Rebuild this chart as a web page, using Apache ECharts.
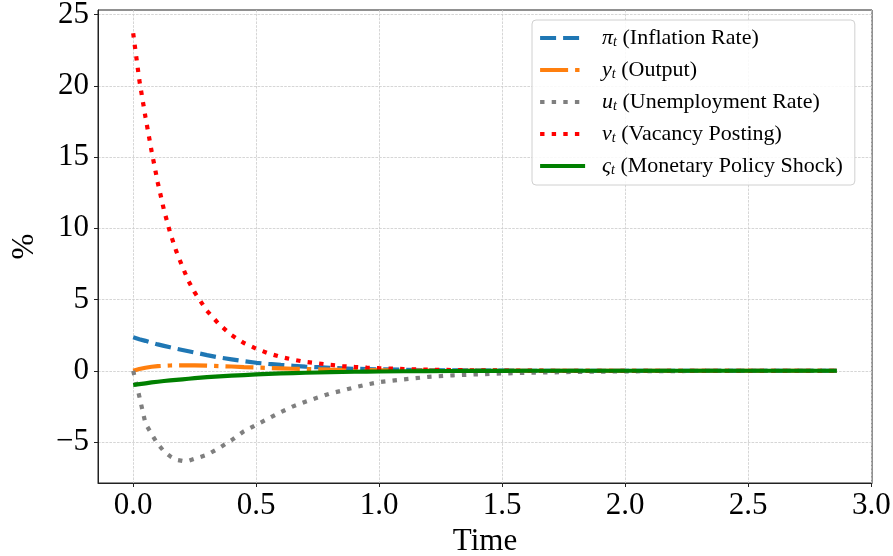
<!DOCTYPE html>
<html>
<head>
<meta charset="utf-8">
<script src="https://cdn.jsdelivr.net/npm/echarts@6/dist/echarts.min.js"></script>
<style>
  html, body { margin: 0; padding: 0; background: #fff; }
  #chart { width: 893px; height: 556px; }
</style>
</head>
<body>
<div id="chart"></div>
<script>
// time grid (years) and impulse responses, in %
const times = [0, 0.025, 0.05, 0.075, 0.1, 0.125, 0.15, 0.175, 0.2, 0.225, 0.25,
  0.3, 0.35, 0.4, 0.45, 0.5, 0.55, 0.6, 0.65, 0.7, 0.75, 0.8, 0.85, 0.9, 0.95, 1.0,
  1.1, 1.2, 1.3, 1.4, 1.5, 1.6, 1.7, 1.8, 2.0, 2.2, 2.4, 2.6, 2.86]

const inflation = [2.35, 2.22, 2.1, 1.97, 1.85, 1.75, 1.65, 1.55, 1.46, 1.37, 1.28,
  1.1, 0.93, 0.8, 0.67, 0.56, 0.48, 0.41, 0.35, 0.29, 0.25, 0.21, 0.17, 0.14, 0.12, 0.1,
  0.07, 0.05, 0.03, 0.02, 0.01, 0, 0, 0, 0, 0, 0, 0, 0]

const output = [0, 0.12, 0.21, 0.28, 0.32, 0.35, 0.37, 0.38, 0.385, 0.385, 0.38,
  0.36, 0.33, 0.3, 0.26, 0.23, 0.2, 0.17, 0.14, 0.12, 0.1, 0.08, 0.07, 0.05, 0.04, 0.03,
  0.02, 0.01, 0, 0, 0, 0, 0, 0, 0, 0, 0, 0, 0]

const unemployment = [0, -1.8, -3.7, -4.45, -5.15, -5.65, -6.0, -6.25, -6.33, -6.32, -6.18,
  -5.9, -5.42, -4.87, -4.25, -3.8, -3.35, -2.9, -2.5, -2.17, -1.88, -1.6, -1.39, -1.16, -0.96, -0.8,
  -0.6, -0.43, -0.32, -0.25, -0.19, -0.14, -0.11, -0.08, -0.04, -0.02, -0.01, 0, 0]

const vacancy = [23.7, 20.4, 17.8, 15.4, 13.2, 11.3, 9.7, 8.4, 7.3, 6.3, 5.5,
  4.2, 3.25, 2.5, 1.95, 1.55, 1.22, 0.97, 0.78, 0.62, 0.52, 0.42, 0.33, 0.27, 0.22, 0.18,
  0.12, 0.08, 0.05, 0.03, 0.02, 0.01, 0, 0, 0, 0, 0, 0, 0]

const shock = [-1.0, -0.94, -0.88, -0.82, -0.77, -0.72, -0.68, -0.64, -0.6, -0.56, -0.52,
  -0.45, -0.39, -0.34, -0.3, -0.26, -0.22, -0.19, -0.16, -0.14, -0.12, -0.1, -0.085, -0.07, -0.06, -0.05,
  -0.035, -0.025, -0.015, -0.01, -0.005, 0, 0, 0, 0, 0, 0, 0, 0]

const xTicks = [0, 0.5, 1.0, 1.5, 2.0, 2.5, 3.0]
const yTicks = [-5, 0, 5, 10, 15, 20, 25]

const legendLabels = {
  pi: '{g|}{i|π}{s|t} (Inflation Rate)',
  y: '{g|}{i|y}{s|t} (Output)',
  u: '{g|}{i|u}{s|t} (Unemployment Rate)',
  v: '{g|}{i|v}{s|t} (Vacancy Posting)',
  s: '{g|}{i|ς}{s|t} (Monetary Policy Shock)',
}

const FONT = 'Liberation Serif'
const LW = 4.2

function pairs(vals) {
  return times.map((t, i) => [t, vals[i]])
}

function line(name, vals, color, dash) {
  return {
    name,
    type: 'line',
    data: pairs(vals),
    symbol: 'none',
    showSymbol: false,
    lineStyle: { color, width: LW, type: dash, cap: 'butt' },
    itemStyle: { color },
  }
}

const fmtMinus = v => (v < 0 ? '\u2212' + Math.abs(v) : String(v))

const chart = echarts.init(document.getElementById('chart'), null, { renderer: 'canvas' })

chart.setOption({
  animation: false,
  backgroundColor: '#fff',
  grid: {
    left: 98, right: 21, top: 10, bottom: 73,
    outerBoundsMode: 'none',
    containLabel: false,
    show: true, borderColor: '#222', borderWidth: 1,
  },
  legend: {
    orient: 'vertical',
    left: 532, top: 20,
    padding: [7, 12, 8, 6],
    itemGap: 10,
    itemWidth: 45,
    itemHeight: 14,
    backgroundColor: 'rgba(255,255,255,0.85)',
    borderColor: '#d0d0d0',
    borderWidth: 1,
    borderRadius: 4,
    lineStyle: { width: LW },
    itemStyle: { opacity: 0 },
    formatter: name => legendLabels[name],
    textStyle: {
      fontFamily: FONT,
      fontSize: 22,
      lineHeight: 22,
      color: '#000',
      rich: {
        g: { width: 12 },
        i: { fontFamily: FONT, fontSize: 22, fontStyle: 'italic', lineHeight: 22 },
        s: { fontFamily: FONT, fontSize: 14, fontStyle: 'italic', lineHeight: 14, verticalAlign: 'bottom' },
      },
    },
  },
  xAxis: {
    type: 'value',
    min: -0.143, max: 3.003,
    name: 'Time',
    nameLocation: 'middle',
    nameGap: 40,
    nameTextStyle: { fontFamily: FONT, fontSize: 31, color: '#000' },
    axisLine: { show: true, onZero: false, lineStyle: { color: '#222', width: 1 } },
    axisTick: { show: true, length: 4, lineStyle: { color: '#222' }, customValues: xTicks },
    axisLabel: {
      customValues: xTicks,
      margin: 7,
      fontFamily: FONT, fontSize: 31, color: '#000',
      formatter: v => v.toFixed(1),
    },
    splitLine: { show: true, lineStyle: { color: '#cccccc', width: 0.8, type: [2.6, 1.2] } },
  },
  yAxis: {
    type: 'value',
    min: -7.88, max: 25.33,
    name: '%',
    nameLocation: 'middle',
    nameRotate: 90,
    nameGap: 58,
    nameTextStyle: { fontFamily: FONT, fontSize: 31, color: '#000' },
    axisLine: { show: true, onZero: false, lineStyle: { color: '#222', width: 1 } },
    axisTick: { show: true, length: 4, lineStyle: { color: '#222' }, customValues: yTicks },
    axisLabel: {
      customValues: yTicks,
      margin: 9,
      fontFamily: FONT, fontSize: 31, color: '#000',
      formatter: fmtMinus,
    },
    splitLine: { show: true, lineStyle: { color: '#cccccc', width: 0.8, type: [2.6, 1.2] } },
  },
  series: [
    line('pi', inflation, '#1f77b4', [16, 7]),
    line('y', output, '#ff7f0e', [28, 7, 4.4, 7]),
    line('u', unemployment, '#7f7f7f', [4.4, 7.2]),
    line('v', vacancy, '#ff0000', [4.4, 7.2]),
    line('s', shock, '#008000', 'solid'),
  ],
})
</script>
</body>
</html>
